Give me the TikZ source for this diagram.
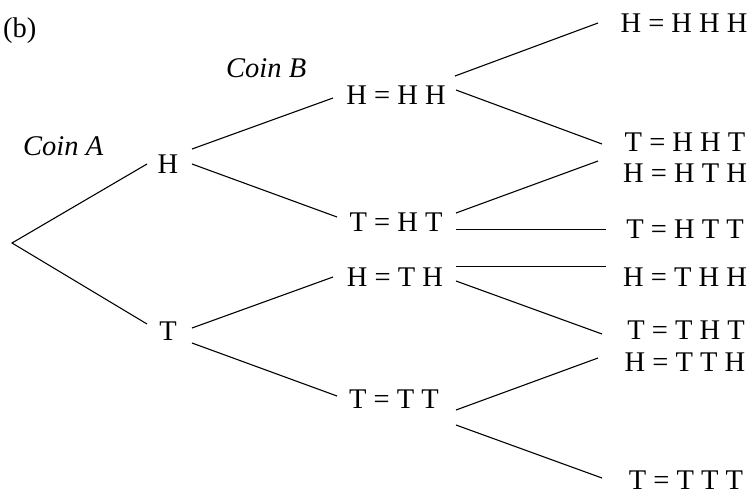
\documentclass[tikz,border=0pt]{standalone}
\usepackage{fontspec}
\setmainfont{Liberation Serif}
\begin{document}
\begin{tikzpicture}[x=1pt,y=-1pt,
  lbl/.style={inner sep=0pt,anchor=base,font=\fontsize{28.5}{32}\selectfont},
  ital/.style={inner sep=0pt,anchor=base west,font=\fontsize{28.5}{32}\selectfont\itshape},
  branch/.style={line width=1.1pt,line cap=butt}]
\useasboundingbox (0,0) rectangle (751,493);
% labels
\node[inner sep=0pt,anchor=base west,font=\fontsize{28.5}{32}\selectfont] (b) at (3,37) {(b)};
\node[ital] (coinA) at (23,155) {Coin A};
\node[ital] (coinB) at (226,77) {Coin B};
% level 1
\node[lbl] (H) at (168,173) {H};
\node[lbl] (T) at (168,340) {T};
% level 2
\node[lbl] (HH) at (396,104) {H = H H};
\node[lbl] (HT) at (396,231) {T = H T};
\node[lbl] (TH) at (395,286) {H = T H};
\node[lbl] (TT) at (394,408) {T = T T};
% level 3
\node[lbl] (HHH) at (684,32) {H = H H H};
\node[lbl] (HHT) at (685,151) {T = H H T};
\node[lbl] (HTH) at (685,182) {H = H T H};
\node[lbl] (HTT) at (685,238) {T = H T T};
\node[lbl] (THH) at (685,286) {H = T H H};
\node[lbl] (THT) at (686,339) {T = T H T};
\node[lbl] (TTH) at (685,371) {H = T T H};
\node[lbl] (TTT) at (686,489.5) {T = T T T};
% connector ends
\coordinate (root) at (12,243);
\coordinate (Hin) at (147,164);
\coordinate (Tin) at (147,324);
\coordinate (Hup) at (192,149);
\coordinate (Hdn) at (192,164);
\coordinate (Tup) at (192,328);
\coordinate (Tdn) at (192,343);
\coordinate (HHin) at (333,98);
\coordinate (HTin) at (337,217);
\coordinate (THin) at (333,277);
\coordinate (TTin) at (337,396);
\coordinate (HHup) at (455,76);
\coordinate (HHdn) at (456,90);
\coordinate (HTup) at (456,213);
\coordinate (HTdn) at (456,229.5);
\coordinate (THup) at (456,266.5);
\coordinate (THdn) at (456,281);
\coordinate (TTup) at (456,410);
\coordinate (TTdn) at (456,425);
\coordinate (HHHin) at (598,23);
\coordinate (HHTin) at (602,144);
\coordinate (HTHin) at (598,161);
\coordinate (HTTin) at (606,229.5);
\coordinate (THHin) at (606,266.5);
\coordinate (THTin) at (602,334);
\coordinate (TTHin) at (598,358);
\coordinate (TTTin) at (602,478);
% branches
\draw[branch] (Hin) -- (root) -- (Tin);
\draw[branch] (Hup) -- (HHin);
\draw[branch] (Hdn) -- (HTin);
\draw[branch] (Tup) -- (THin);
\draw[branch] (Tdn) -- (TTin);
\draw[branch] (HHup) -- (HHHin);
\draw[branch] (HHdn) -- (HHTin);
\draw[branch] (HTup) -- (HTHin);
\draw[branch] (HTdn) -- (HTTin);
\draw[branch] (THup) -- (THHin);
\draw[branch] (THdn) -- (THTin);
\draw[branch] (TTup) -- (TTHin);
\draw[branch] (TTdn) -- (TTTin);
\end{tikzpicture}
\end{document}
